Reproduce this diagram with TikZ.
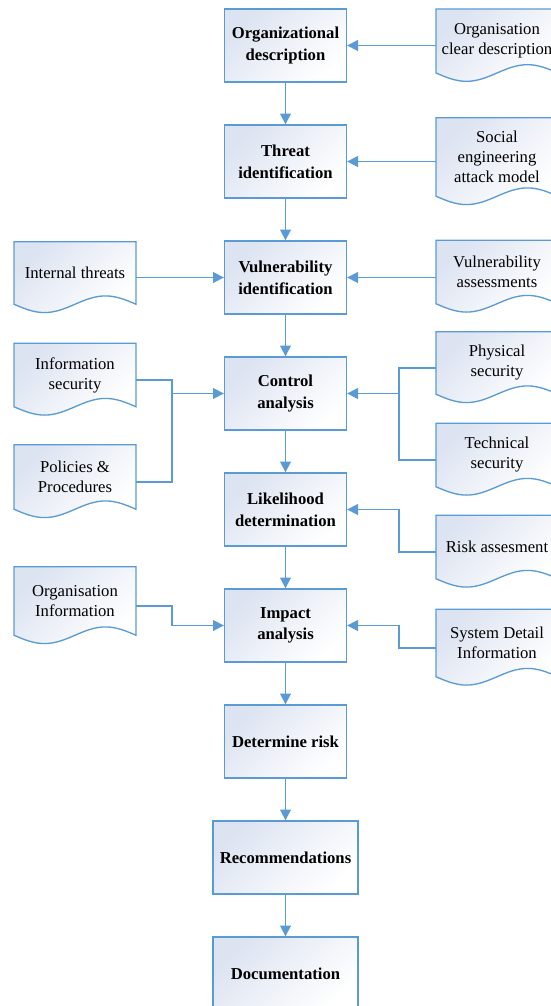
\documentclass[tikz,border=0pt]{standalone}
\usepackage{fontspec}
\setmainfont{Liberation Serif}
\usetikzlibrary{arrows.meta}

\definecolor{flowblue}{HTML}{5B9BD5}
\definecolor{fillblue}{HTML}{DCE3F1}

\pgfdeclarelayer{background}
\pgfsetlayers{background,main}

\tikzset{
  paper/.style={draw=flowblue, line width=0.8pt, top color=fillblue, bottom color=white, shading angle=45},
  box/.style={paper, minimum width=73.2pt, minimum height=43.8pt, align=center,
    font=\fontsize{10}{13}\selectfont\bfseries},
  doc/.style={minimum width=73.2pt, inner sep=0pt, outer sep=0pt, align=center,
    font=\fontsize{10}{12}\selectfont},
  flow/.style={draw=flowblue, line width=1pt},
  >={Triangle[length=6.5pt,width=6.5pt]}
}

\begin{document}
\begin{tikzpicture}[x=0.6pt,y=-0.6pt]
            \useasboundingbox (0,0) rectangle (550,1006);

            % main column
            \node[box] (Organizational) at (285.5, 45.5) {Organizational\\description};
            \node[box] (Threat) at (285.5, 161.5) {Threat\\identification};
            \node[box] (Vulnerability) at (285.5, 277.5) {Vulnerability\\identification};
            \node[box] (Control) at (285.5, 393.5) {Control\\analysis};
            \node[box] (Likelihood) at (285.5, 509.5) {Likelihood\\determination};
            \node[box] (Impact) at (285.5, 625.5) {Impact\\analysis};
            \node[box] (Risk) at (285.5, 741.5) {Determine risk};
            \node[box,minimum width=87pt] (Recommendations) at (285.5, 857.5) {Recommendations};
            \node[box,minimum width=87pt] (Documentation) at (285.5, 973.5) {Documentation};

            % inputs on the right
            \node[doc,minimum height=38.4pt] (Clear) at (497, 41) {Organisation\\clear description};
            \node[doc,minimum height=47.1pt] (Social) at (497, 157) {Social\\engineering\\attack model};
            \node[doc,minimum height=38.1pt] (Assessments) at (497, 272) {Vulnerability\\assessments};
            \node[doc,minimum height=37.5pt] (Physical) at (497, 363) {Physical\\security};
            \node[doc,minimum height=38.1pt] (Technical) at (497, 455) {Technical\\security};
            \node[doc,minimum height=38.1pt] (Assesment) at (497, 547) {Risk assesment};
            \node[doc,minimum height=40.5pt] (System) at (497, 643) {System Detail\\Information};

            % inputs on the left
            \node[doc,minimum height=37.5pt] (Internal) at (75, 273) {Internal threats};
            \node[doc,minimum height=38.1pt] (Information) at (75, 375) {Information\\security};
            \node[doc,minimum height=38.7pt] (Policies) at (75, 477) {Policies \&\\Procedures};
            \node[doc,minimum height=41.1pt] (OrgInfo) at (75, 601) {Organisation\\Information};

            % document outlines with the wavy edge
            \begin{pgfonlayer}{background}
            \foreach \d in {Clear,Social,Assessments,Physical,Technical,Assesment,System,Internal,Information,Policies,OrgInfo}
              \path[paper] (\d.north west) -- (\d.north east) -- (\d.south east)
                sin ++(-18.3pt,5pt) cos ++(-18.3pt,-5pt) sin ++(-18.3pt,-5pt) cos ++(-18.3pt,5pt) -- cycle;
            \end{pgfonlayer}

            \coordinate (JoinL) at (172, 393.5);
            \coordinate (JoinR) at (399, 393.5);
            \coordinate (BendRisk) at (399, 509.5);
            \coordinate (BendOrg) at (172, 625.5);
            \coordinate (BendSys) at (399, 625.5);

            \draw[->,flow] (Organizational) to (Threat);
            \draw[->,flow] (Threat) to (Vulnerability);
            \draw[->,flow] (Vulnerability) to (Control);
            \draw[->,flow] (Control) to (Likelihood);
            \draw[->,flow] (Likelihood) to (Impact);
            \draw[->,flow] (Impact) to (Risk);
            \draw[->,flow] (Risk) to (Recommendations);
            \draw[->,flow] (Recommendations) to (Documentation);

            \draw[->,flow] (Clear.west |- Organizational) to (Organizational);
            \draw[->,flow] (Social.west |- Threat) to (Threat);
            \draw[->,flow] (Assessments.west |- Vulnerability) to (Vulnerability);
            \draw[->,flow] (Internal.east |- Vulnerability) to (Vulnerability);

            \draw[flow] ([yshift=-3pt]Information.east) -| (JoinL);
            \draw[flow] ([yshift=-3pt]Policies.east) -| (JoinL);
            \draw[->,flow] (JoinL) to (Control);
            \draw[flow] ([yshift=-3pt]Physical.west) -| (JoinR);
            \draw[flow] ([yshift=-3pt]Technical.west) -| (JoinR);
            \draw[->,flow] (JoinR) to (Control);

            \draw[->,flow] ([yshift=-3pt]Assesment.west) -| (BendRisk) -- (Likelihood.east);
            \draw[->,flow] ([yshift=-3pt]OrgInfo.east) -| (BendOrg) -- (Impact.west);
            \draw[->,flow] ([yshift=-3pt]System.west) -| (BendSys) -- (Impact.east);

        \end{tikzpicture}
\end{document}
